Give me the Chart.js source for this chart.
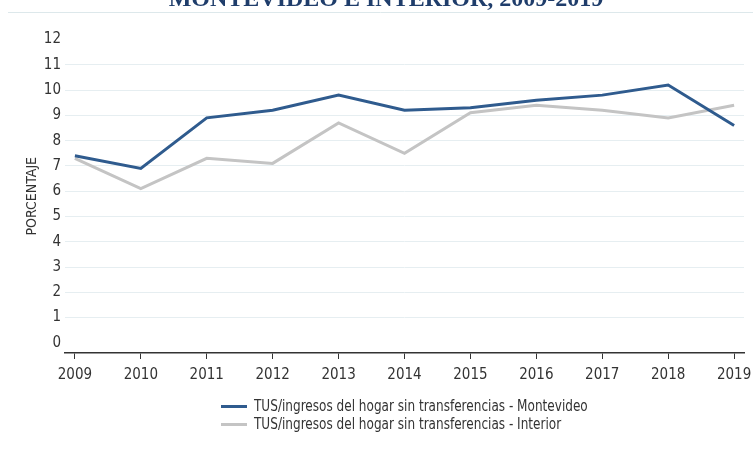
<!DOCTYPE html>
<html>
<head>
<meta charset="utf-8">
<script src="https://cdn.jsdelivr.net/npm/chart.js@4"></script>
<style>
  html, body { margin:0; padding:0; background:#fff; }
  #wrap { position:relative; width:753px; height:459px; overflow:hidden; }
  #legend { position:absolute; left:221px; top:397px; font-family:"Liberation Sans Narrow","DejaVu Sans Condensed",sans-serif; font-size:15px; color:#333; }
  .li { display:flex; align-items:center; height:18px; white-space:nowrap; }
  .sw { width:26px; height:3px; margin-right:7px; flex:none; }
  .tx { display:inline-block; transform:scaleX(0.895); transform-origin:left center; }
</style>
</head>
<body>
<div id="wrap">
  <canvas id="c" width="753" height="459"></canvas>
  <div id="legend"></div>
</div>
<script>
const titleText = "MONTEVIDEO E INTERIOR, 2009-2019";
const years = [2009, 2010, 2011, 2012, 2013, 2014, 2015, 2016, 2017, 2018, 2019];
const yTicks = [0, 1, 2, 3, 4, 5, 6, 7, 8, 9, 10, 11, 12];
const seriesNames = [
  "TUS/ingresos del hogar sin transferencias - Montevideo",
  "TUS/ingresos del hogar sin transferencias - Interior"
];
const montevideo = [7.4, 6.9, 8.9, 9.2, 9.8, 9.2, 9.3, 9.6, 9.8, 10.2, 8.6];
const interior   = [7.3, 6.1, 7.3, 7.1, 8.7, 7.5, 9.1, 9.4, 9.2, 8.9, 9.4];
const colors = ["#2f5b8e", "#c4c4c4"];

const FONT = '"Liberation Sans Narrow","DejaVu Sans Condensed",sans-serif';

const titlePlugin = {
  id: 'cutTitle',
  beforeDraw(chart) {
    const ctx = chart.ctx;
    ctx.save();
    ctx.fillStyle = '#1f3d6b';
    ctx.font = 'bold 24px "Liberation Serif", serif';
    ctx.textAlign = 'center';
    ctx.textBaseline = 'alphabetic';
    ctx.fillText(titleText, 386, 6);
    ctx.strokeStyle = '#dde8eb';
    ctx.lineWidth = 1;
    ctx.beginPath();
    ctx.moveTo(8, 12.5);
    ctx.lineTo(753, 12.5);
    ctx.stroke();
    ctx.restore();
  }
};

const chart = new Chart(document.getElementById('c'), {
  type: 'line',
  data: {
    datasets: [
      { label: seriesNames[0], data: years.map((y, i) => ({x: y, y: montevideo[i]})),
        borderColor: colors[0], backgroundColor: colors[0], borderWidth: 3, pointRadius: 0, tension: 0 },
      { label: seriesNames[1], data: years.map((y, i) => ({x: y, y: interior[i]})),
        borderColor: colors[1], backgroundColor: colors[1], borderWidth: 3, pointRadius: 0, tension: 0 }
    ]
  },
  options: {
    responsive: false,
    animation: false,
    layout: { padding: { top: 39.5, right: 9, bottom: 66, left: 0 } },
    plugins: {
      legend: { display: false },
      tooltip: { enabled: false }
    },
    scales: {
      x: {
        type: 'linear',
        min: years[0] - 0.15,
        max: years[years.length - 1] + 0.15,
        afterBuildTicks(scale) { scale.ticks = years.map(v => ({value: v})); },
        afterFit(scale) { scale.height = 40; scale.paddingLeft = 0; scale.paddingRight = 0; },
        border: { display: true, color: '#333', width: 1.5 },
        grid: { display: true, drawOnChartArea: false, drawTicks: true, tickLength: 6, color: '#333', lineWidth: 1 },
        ticks: { font: { family: FONT, size: 15 }, color: '#333', padding: 7, maxRotation: 0, callback: v => String(v) }
      },
      y: {
        min: -0.4,
        max: 12,
        afterBuildTicks(scale) { scale.ticks = yTicks.map(v => ({value: v})); },
        afterFit(scale) { scale.width = 65; scale.paddingBottom = 0; },
        border: { display: false },
        grid: { drawTicks: false, color: ctx => (ctx.tick && (ctx.tick.value === 0 || ctx.tick.value === 12)) ? 'rgba(0,0,0,0)' : '#e6eef1', lineWidth: 1 },
        ticks: { font: { family: FONT, size: 15 }, color: '#333', padding: 4 },
        title: { display: true, text: 'PORCENTAJE', font: { family: FONT, size: 14 }, color: '#333', padding: { top: 24, bottom: 0 } }
      }
    }
  },
  plugins: [titlePlugin]
});

const lg = document.getElementById('legend');
seriesNames.forEach((n, i) => {
  const d = document.createElement('div'); d.className = 'li';
  const s = document.createElement('span'); s.className = 'sw'; s.style.background = colors[i];
  const t = document.createElement('span'); t.className = 'tx'; t.textContent = n;
  d.appendChild(s); d.appendChild(t); lg.appendChild(d);
});
</script>
</body>
</html>
